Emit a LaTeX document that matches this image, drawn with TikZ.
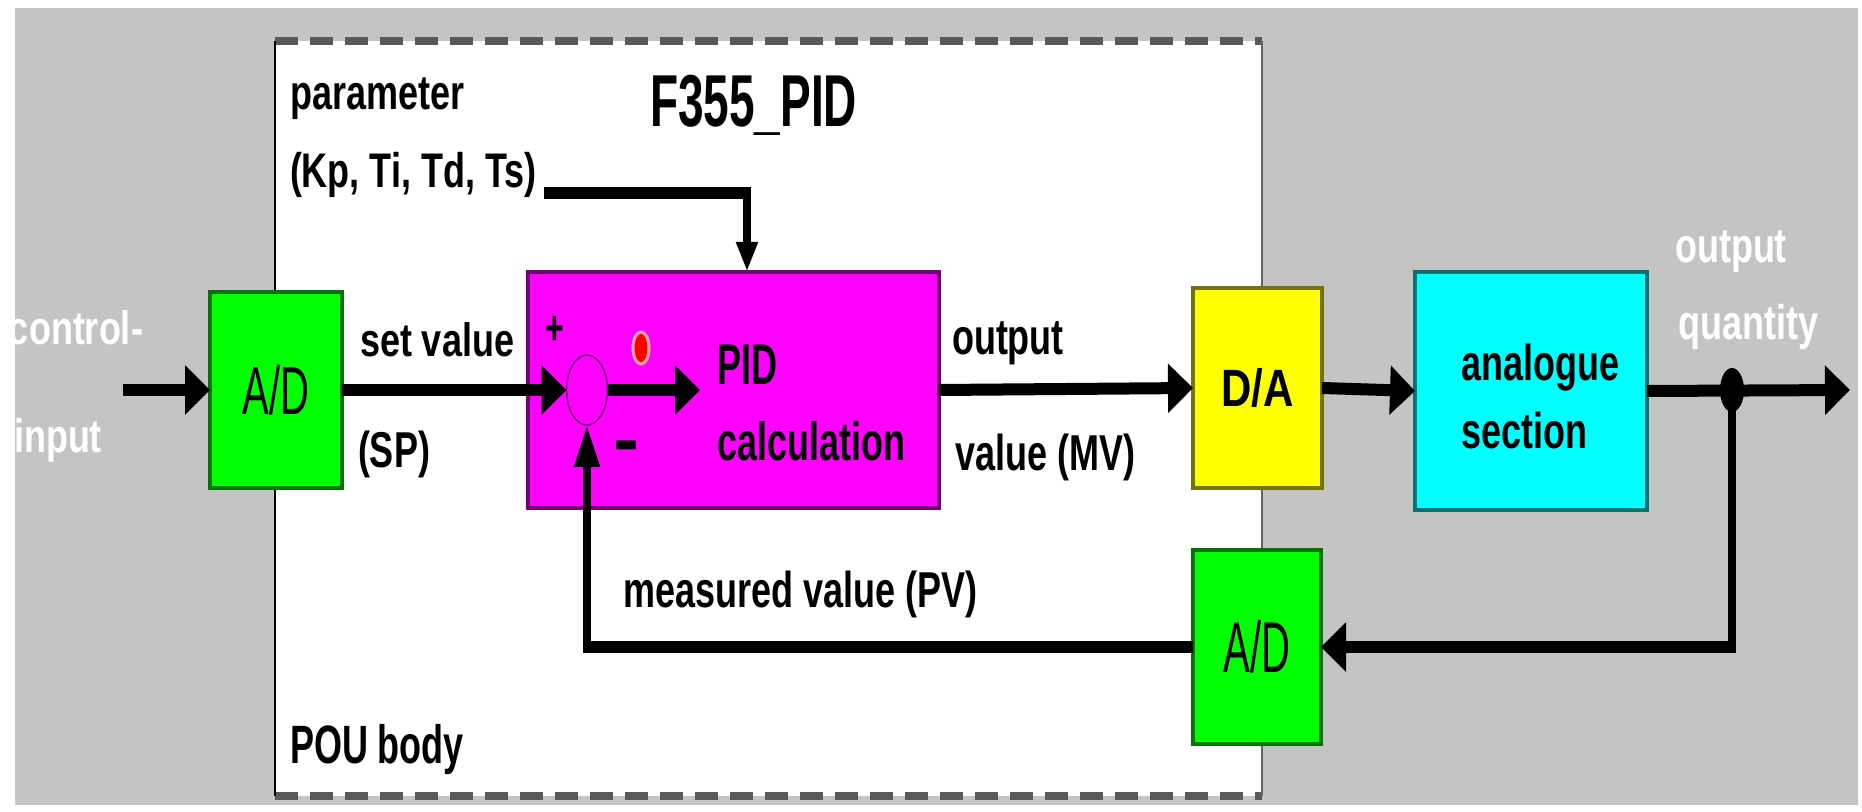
\documentclass[tikz,border=0pt]{standalone}
\usepackage{fontspec}
\setmainfont{Liberation Sans}
\usepackage{graphicx}
\usetikzlibrary{arrows.meta,shapes.geometric,calc}
\definecolor{bggray}{RGB}{196,196,196}
\definecolor{gr}{RGB}{0,255,0}
\definecolor{mg}{RGB}{255,0,255}
\definecolor{yl}{RGB}{255,255,0}
\definecolor{cy}{RGB}{0,255,255}
\definecolor{rd}{RGB}{255,0,0}
\newcommand{\vs}[2]{\scalebox{1}[#1]{#2}}
\begin{document}
\begin{tikzpicture}[x=0.5pt,y=-0.5pt,
  lbl/.style={anchor=base west,inner sep=0pt,outer sep=0pt,font=\fontsize{18pt}{20pt}\selectfont\bfseries},
  wlbl/.style={lbl,text=white},
  blk/.style={draw=#1!45!black,fill=#1,line width=2pt,inner sep=0pt,outer sep=0pt},
  hline/.style={line width=6pt},
  vline/.style={line width=4pt},
  harrow/.style={-{Triangle[length=12.5pt,width=24pt]}},
  varrow/.style={-{Triangle[length=21pt,width=12pt]}},
  parrow/.style={-{Triangle[length=15pt,width=10pt]}},
  dashedge/.style={black!65,line width=4pt,dash pattern=on 11.5pt off 6pt},
]
\useasboundingbox (0,0) rectangle (1862,812);
\fill[white] (0,0) rectangle (1862,812);
\fill[bggray] (15,8) rectangle (1858,805);
% POU body frame
\fill[white] (275,41) rectangle (1262,796);
\draw[dashedge] (275,41) -- (1262,41);
\draw[dashedge] (275,796) -- (1262,796);
\draw[black,line width=1pt] (275,41) -- (275,796);
\draw[black!60,line width=1pt] (1262,41) -- (1262,796);

% blocks
\node[blk=gr,minimum width=66pt,minimum height=98pt] (adin) at (276,390)
  {\vs{1.7}{\fontsize{20pt}{22pt}\selectfont A/D}};
\node[blk=mg,minimum width=205.5pt,minimum height=118pt] (pid) at (733.5,390) {};
\node[blk=yl,minimum width=64.5pt,minimum height=100pt] (da) at (1257.5,388)
  {\vs{1.25}{\fontsize{21pt}{23pt}\selectfont\bfseries D/A}};
\node[blk=cy,minimum width=116pt,minimum height=119pt] (ana) at (1531,391) {};
\node[blk=gr,minimum width=64pt,minimum height=97pt] (adfb) at (1257,647)
  {\vs{1.8}{\fontsize{20pt}{22pt}\selectfont A/D}};
\node[ellipse,draw=mg!50!black,fill=mg,line width=0.8pt,inner sep=0pt,outer sep=0pt,
  minimum width=20.5pt,minimum height=35pt] (sum) at (587,390) {};
\node[ellipse,fill=rd,draw=white!65!rd,line width=1.5pt,inner sep=0pt,
  minimum width=8pt,minimum height=16pt] (rdot) at (641,348) {};

% coordinates
\coordinate (ci) at (123,390);
\coordinate (pidin) at (700,390);
\coordinate (out) at (1850,390);
\coordinate (tapc) at (1732,390);
\coordinate (par) at (544,193);
\coordinate (pc) at (747,193);
\coordinate (fbc) at (sum.south |- adfb.west);

% connectors
\draw[hline,harrow] (ci) -- (adin.west);
\draw[hline,harrow] (adin.east) -- (sum.west);
\draw[hline,harrow] (sum.east) -- (pidin);
\draw[hline,harrow] (pid.east) -- (da.west);
\draw[hline,harrow] (da.east) -- (ana.west);
\draw[hline,harrow] (ana.east) -- (out);
\draw[vline] (tapc) -- ($(tapc |- adfb.east)+(0,6)$);
\draw[hline,harrow] (tapc |- adfb.east) -- (adfb.east);
\draw[hline] (adfb.west) -- (fbc);
\draw[vline,varrow] ($(fbc)+(0,6)$) -- (sum.south);
\draw[hline] (par) -- (pc);
\draw[vline,parrow] ($(pc)+(0,-6)$) -- (pc |- pid.north);
\node[ellipse,fill=black,inner sep=0pt,minimum width=12pt,minimum height=22pt] (tap) at (tapc) {};

% texts
\node[wlbl] (t1) at (9,345) {\vs{1.3}{control-}};
\node[wlbl] (t2) at (14,452) {\vs{1.3}{input}};
\node[lbl] (t3) at (290,110) {\vs{1.35}{parameter}};
\node[lbl] (t4) at (290,188) {\vs{1.35}{(Kp, Ti, Td, Ts)}};
\node[lbl,font=\fontsize{23pt}{25pt}\selectfont\bfseries] (t5) at (650,127) {\vs{1.6}{F355\_PID}};
\node[lbl] (t6) at (360,357) {\vs{1.3}{set value}};
\node[lbl] (t7) at (358,467) {\vs{1.4}{(SP)}};
\node[lbl,font=\fontsize{16pt}{18pt}\selectfont\bfseries] (t8) at (545,345) {\vs{1.5}{+}};
\node[inner sep=0pt,font=\fontsize{18pt}{20pt}\selectfont\bfseries] (t9) at (627,455) {\scalebox{1.1}[2.5]{--}};
\node[lbl] (t10) at (717,385) {\vs{1.6}{PID}};
\node[lbl] (t11) at (717,460) {\vs{1.5}{calculation}};
\node[lbl] (t12) at (952,355) {\vs{1.4}{output}};
\node[lbl] (t13) at (955,470) {\vs{1.4}{value (MV)}};
\node[lbl] (t14) at (1461,380) {\vs{1.4}{analogue}};
\node[lbl] (t15) at (1461,448) {\vs{1.4}{section}};
\node[wlbl] (t16) at (1675,263) {\vs{1.35}{output}};
\node[wlbl] (t17) at (1678,340) {\vs{1.35}{quantity}};
\node[lbl] (t18) at (623,607) {\vs{1.4}{measured value (PV)}};
\node[lbl] (t19) at (290,763) {\vs{1.5}{POU body}};
\end{tikzpicture}
\end{document}
